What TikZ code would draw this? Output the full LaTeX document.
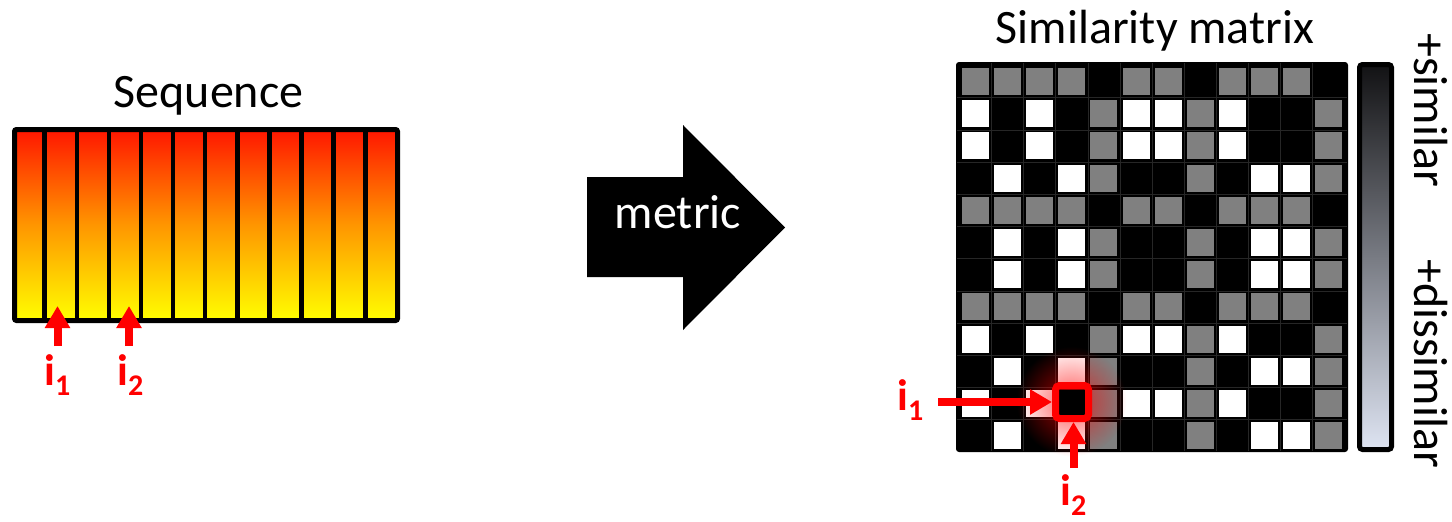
\documentclass[tikz,border=0pt]{standalone}
\usepackage{fontspec}
\setmainfont{Carlito}
\usetikzlibrary{arrows.meta,fadings}
\definecolor{cg}{RGB}{128,128,128}
\definecolor{cw}{RGB}{255,255,255}
\definecolor{ck}{RGB}{0,0,0}
\definecolor{seqtop}{RGB}{255,22,0}
\definecolor{seqmid}{RGB}{255,150,0}
\definecolor{seqbot}{RGB}{255,255,0}
\definecolor{bartop}{RGB}{18,18,20}
\definecolor{barbot}{RGB}{222,228,242}
\definecolor{gridc}{RGB}{38,38,38}
\tikzfading[name=glowfade, inner color=transparent!35, outer color=transparent!100]
\def\rowA{g,g,g,g,k,g,g,k,g,g,g,k}
\def\rowB{w,k,w,k,g,w,w,g,w,k,k,g}
\def\rowC{k,w,k,w,g,k,k,g,k,w,w,g}
\newcommand{\bigtxt}{\fontsize{48}{52}\selectfont}
\newcommand{\idx}[1]{{\fontsize{44}{48}\selectfont\bfseries i\raisebox{-10pt}{\fontsize{30}{32}\selectfont #1}}}
\tikzset{
  title/.style={inner sep=0pt, font=\bigtxt, text=black},
  idxlab/.style={inner sep=0pt, text=red, anchor=base west},
  redarrow/.style={draw=red, line width=8pt, -{Triangle[length=22pt,width=24pt]}},
  bigarrow/.style={fill=black},
}
\begin{document}
\begin{tikzpicture}[x=1pt,y=-1pt]
\useasboundingbox (0,0) rectangle (1452,522);
% ---------- Sequence ----------
\node[title, anchor=base] (seqtitle) at (208.5,107) {Sequence};
\shade[top color=seqtop, bottom color=seqbot, middle color=seqmid]
  (14.5,129.5) rectangle (397.5,320.5);
\foreach \k in {0,...,10} {
  \draw[line width=4.5pt] ({44.7+32.1*\k},129.5) -- ({44.7+32.1*\k},320.5);
}
\draw[line width=5pt, rounded corners=2pt] (14.5,129.5) rectangle (397.5,320.5);
\coordinate (sa1) at (57.5,346);
\coordinate (sb1) at (57.5,306);
\coordinate (sa2) at (129,346);
\coordinate (sb2) at (129,306);
\draw[redarrow] (sa1) -- (sb1);
\draw[redarrow] (sa2) -- (sb2);
\node[idxlab] (si1) at (44,385) {\idx{1}};
\node[idxlab] (si2) at (117,385) {\idx{2}};
% ---------- metric arrow ----------
\fill[bigarrow] (587,177) -- (683,177) -- (683,125) -- (785,227.5) -- (683,330) -- (683,277) -- (587,277) -- cycle;
\node[title, anchor=base, text=white] (metric) at (678,228) {metric};
% ---------- Similarity matrix ----------
\node[title, anchor=base] (simtitle) at (1155,43) {Similarity matrix};
\fill[black, rounded corners=3pt] (956,62) rectangle (1348,452);
\foreach \k in {1,...,11} {
  \draw[gridc, line width=0.6pt] ({962+32.1*\k-2.55},63) -- ({962+32.1*\k-2.55},451);
  \draw[gridc, line width=0.6pt] (957,{68+32.2*\k-2.6}) -- (1347,{68+32.2*\k-2.6});
}
\foreach \r/\t in {1/A,2/B,3/B,4/C,5/A,6/C,7/C,8/A,9/B,10/C,11/B,12/C} {
  \edef\cur{\csname row\t\endcsname}
  \foreach \v [count=\c] in \cur {
    \fill[c\v] ({962+32.1*(\c-1)},{68+32.2*(\r-1)}) rectangle ++(27,27);
  }
}
% glow
\fill[red, path fading=glowfade] (1071.5,401.5) circle (55pt);
\fill[black] ({962+32.1*3},{68+32.2*10}) rectangle ++(27,27);
\draw[red, line width=7pt, rounded corners=4pt] (1055.5,385.5) rectangle (1088.5,418.5);
\coordinate (ma1) at (938,402);
\coordinate (mb1) at (1052,402);
\coordinate (ma2) at (1073.5,468);
\coordinate (mb2) at (1073.5,422);
\draw[redarrow] (ma1) -- (mb1);
\draw[redarrow] (ma2) -- (mb2);
\node[idxlab] (mi1) at (897,410) {\idx{1}};
\node[idxlab] (mi2) at (1060,505) {\idx{2}};
% ---------- colour bar ----------
\shade[top color=bartop, bottom color=barbot, rounded corners=3pt] (1359.5,64.5) rectangle (1391.5,449.5);
\draw[line width=5pt, rounded corners=3pt] (1359.5,64.5) rectangle (1391.5,449.5);
\node[title, rotate=-90, anchor=base west] (simlab) at (1414,33) {+similar};
\node[title, rotate=-90, anchor=base west] (dislab) at (1414,259) {+dissimilar};
\end{tikzpicture}
\end{document}
